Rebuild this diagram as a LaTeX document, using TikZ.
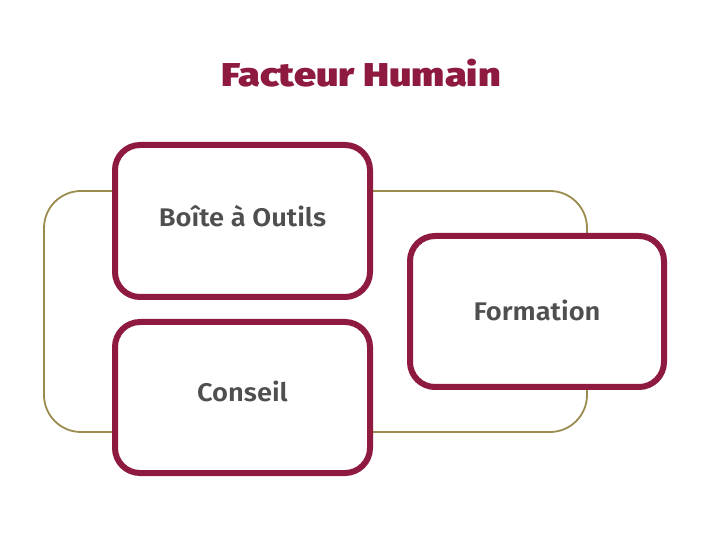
\documentclass[tikz,border=0pt]{standalone}
\usepackage{fontspec}
\setmainfont{Fira Sans}
\newfontfamily\labelfont[FakeStretch=1.07]{Fira Sans SemiBold}
\newfontfamily\titlefont[FakeStretch=1.2]{Fira Sans Black}
\definecolor{maroon}{HTML}{8E1B3F}
\definecolor{olive}{HTML}{9B8B4E}
\definecolor{txtgray}{HTML}{4F4F4F}
\tikzset{
  panel/.style={draw=maroon, line width=6pt, fill=white, rounded corners=25pt},
  frame/.style={draw=olive, line width=1.8pt, rounded corners=37pt},
  lbl/.style={text=txtgray, font=\labelfont\fontsize{25.5}{30}\selectfont},
  ttl/.style={text=maroon, font=\titlefont\fontsize{33}{36}\selectfont}
}
\begin{document}
\begin{tikzpicture}[x=1pt,y=-1pt]
\useasboundingbox (0,0) rectangle (718,545);
\draw[frame] (44,191) rectangle (587,432);
\draw[panel] (115,145) rectangle (370,297);
\draw[panel] (115,322) rectangle (370,473);
\draw[panel] (410,236) rectangle (664,387);
\node[ttl] (title) at (361,73.5) {Facteur Humain};
\node[lbl] (boite) at (242.5,216) {Boîte à Outils};
\node[lbl] (conseil) at (242.5,391.5) {Conseil};
\node[lbl] (formation) at (537,310.5) {Formation};
\end{tikzpicture}
\end{document}
